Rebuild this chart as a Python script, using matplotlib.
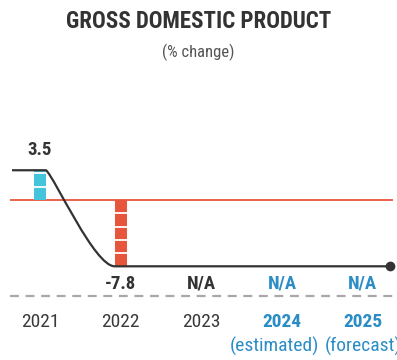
import matplotlib
matplotlib.use('Agg')
import matplotlib.pyplot as plt
from matplotlib.path import Path
from matplotlib.patches import PathPatch

# ---- data ----
years = ['2021', '2022', '2023', '2024', '2025']
sublabels = ['', '', '', '(estimated)', '(forecast)']
gdp = [3.5, -7.8, None, None, None]
value_labels = ['3.5', '-7.8', 'N/A', 'N/A', 'N/A']
projected = [False, False, False, True, True]

# ---- style ----
DARK = '#333333'
BLUE = '#2b8dc5'
CYAN = '#43c4da'
RED = '#e8553d'
GRAY = '#a8a8a8'
FONT = 'Roboto Condensed'

W, H = 397, 360
X0, DX = 40, 80.7
fig = plt.figure(figsize=(W / 100, H / 100), dpi=100)
ax = fig.add_axes([0, 0, 1, 1])
ax.set_axis_off()
# pixel mapping: x_px = X0 + DX*x ; y_px = 200 - 8.5*v
ax.set_xlim(-X0 / DX, (W - X0) / DX)
ax.set_ylim((200 - H) / 8.5, 200 / 8.5)

def py(ypx):
    return (200 - ypx) / 8.5

def px(xpx):
    return (xpx - X0) / DX

bar_w = 0.15
stripe_step = 1.57

# zero line
ax.plot([px(10), px(393)], [0, 0], color=RED, lw=1.3, solid_capstyle='butt', zorder=2)

# bars
for i, v in enumerate(gdp):
    if v is None:
        continue
    col = CYAN if v > 0 else RED
    ax.bar(i, v, width=bar_w, color=col, zorder=3, linewidth=0)
    k = 1
    while k * stripe_step < abs(v) - 0.15:
        yv = k * stripe_step * (1 if v > 0 else -1)
        ax.plot([i - bar_w / 2, i + bar_w / 2], [yv, yv], color='white', lw=1.3,
                solid_capstyle='butt', zorder=4)
        k += 1

# trend line
known = [(i, v) for i, v in enumerate(gdp) if v is not None]
(i0, v0), (i1, v1) = known[0], known[1]
last_v = known[-1][1]
x_start = px(12)
x_end = px(390)
xa = i0 + bar_w / 2
xb = i1 - bar_w / 2
verts = [(x_start, v0), (xa, v0),
         (xa + 0.11, v0 - 0.9), (xb - 0.25, v1), (xb, v1),
         (x_end, last_v)]
codes = [Path.MOVETO, Path.LINETO, Path.CURVE4, Path.CURVE4, Path.CURVE4, Path.LINETO]
ax.add_patch(PathPatch(Path(verts, codes), facecolor='none', edgecolor=DARK,
                       lw=1.6, zorder=5, joinstyle='round'))
ax.plot([x_end], [last_v], 'o', color=DARK, markersize=6, zorder=6)

# dashed baseline
ax.plot([px(10), px(393)], [py(296), py(296)], color=GRAY, lw=1.6,
        dashes=(4, 3), zorder=1)

# value labels
for i, (v, lab) in enumerate(zip(gdp, value_labels)):
    if v is not None and v > 0:
        ypos = py(155)
    else:
        ypos = py(289)
    col = BLUE if projected[i] else DARK
    ax.text(i, ypos, lab, ha='center', va='baseline', fontsize=13.5,
            fontweight='bold', color=col, family=FONT, zorder=7)

# year labels
sub_shift = {3: -8 / DX}
for i, (yr, sub) in enumerate(zip(years, sublabels)):
    if projected[i]:
        ax.text(i, py(327), yr, ha='center', va='baseline', fontsize=14,
                fontweight='bold', color=BLUE, family=FONT)
    else:
        ax.text(i, py(327), yr, ha='center', va='baseline', fontsize=14,
                color='#3a3a3a', family=FONT)
    if sub:
        ax.text(i + sub_shift.get(i, 0), py(352), sub, ha='center', va='baseline',
                fontsize=14, color=BLUE, family=FONT)

# title
fig.text(0.5, 1 - 28 / H, 'GROSS DOMESTIC PRODUCT', ha='center', va='baseline',
         fontsize=16.5, fontweight='bold', color=DARK, family=FONT)
fig.text(0.5, 1 - 57 / H, '(% change)', ha='center', va='baseline',
         fontsize=12, color='#555555', family=FONT)

fig.savefig('out.png', dpi=100)
